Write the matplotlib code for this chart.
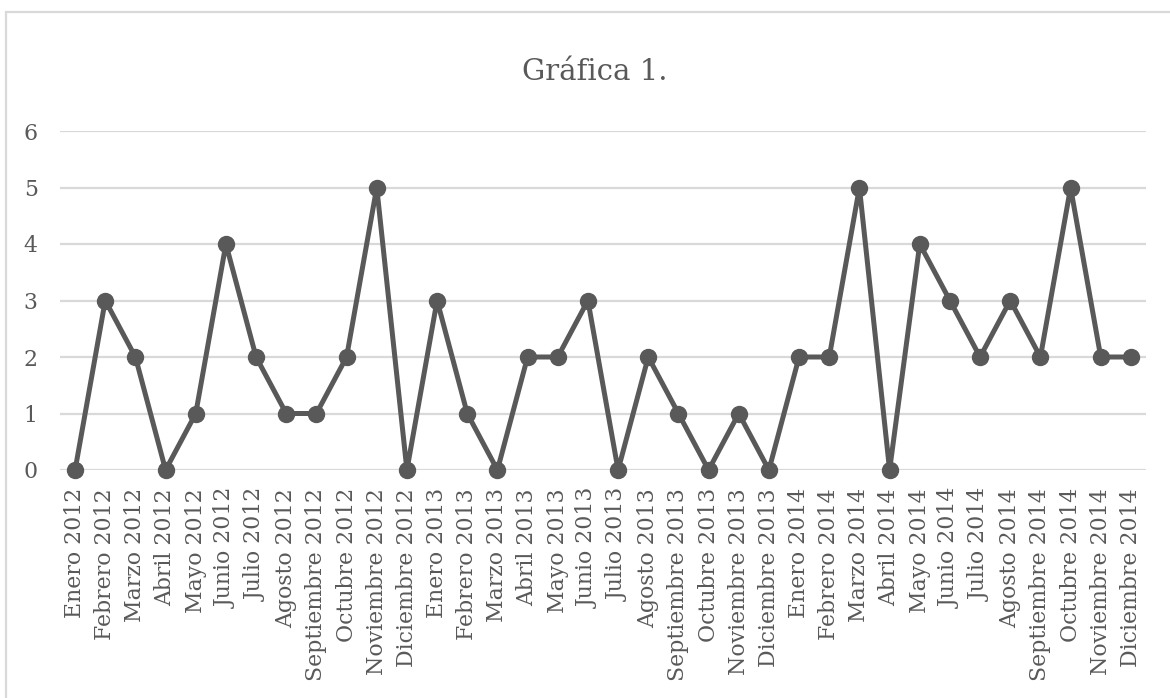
import matplotlib
matplotlib.use("Agg")
import matplotlib.pyplot as plt
from matplotlib.patches import Rectangle

months = ["Enero", "Febrero", "Marzo", "Abril", "Mayo", "Junio", "Julio",
          "Agosto", "Septiembre", "Octubre", "Noviembre", "Diciembre"]
years = [2012, 2013, 2014]
labels = [f"{m} {y}" for y in years for m in months]

values = [0, 3, 2, 0, 1, 4, 2, 1, 1, 2, 5, 0,
          3, 1, 0, 2, 2, 3, 0, 2, 1, 0, 1, 0,
          2, 2, 5, 0, 4, 3, 2, 3, 2, 5, 2, 2]

yticks = [0, 1, 2, 3, 4, 5, 6]
title = "Gráfica 1."

text_color = "#595959"
line_color = "#595959"
grid_color = "#d9d9d9"

plt.rcParams["font.family"] = ["DejaVu Serif"]

fig = plt.figure(figsize=(11.70, 6.98), dpi=100)
ax = fig.add_axes([60 / 1170, 1 - 470 / 698, 1086 / 1170, 339 / 698])

# outer chart frame
fig.patches.append(Rectangle((6 / 1170, -0.1), 1.2, 1 - 12 / 698 + 0.1,
                             transform=fig.transFigure, fill=False,
                             edgecolor=grid_color, linewidth=1.6))

x = list(range(len(values)))
ax.plot(x, values, color=line_color, linewidth=3.6, marker="o",
        markersize=11.5, solid_joinstyle="round", solid_capstyle="round",
        zorder=3, clip_on=False)

ax.set_xlim(-0.5, len(values) - 0.5)
ax.set_ylim(0, 6)
ax.set_yticks(yticks)
ax.set_yticklabels([str(v) for v in yticks])
ax.set_xticks(x)
ax.set_xticklabels(labels, rotation=90)

ax.yaxis.grid(True, color=grid_color, linewidth=1.6)
ax.set_axisbelow(True)
for s in ax.spines.values():
    s.set_visible(False)
ax.tick_params(axis="both", length=0, colors=text_color, labelsize=15.8)
ax.tick_params(axis="y", pad=16)
ax.tick_params(axis="x", pad=13)

fig.text(595 / 1170, 1 - 72 / 698, title, ha="center", va="center",
         fontsize=21, color=text_color)

fig.savefig("out.png", dpi=100)
